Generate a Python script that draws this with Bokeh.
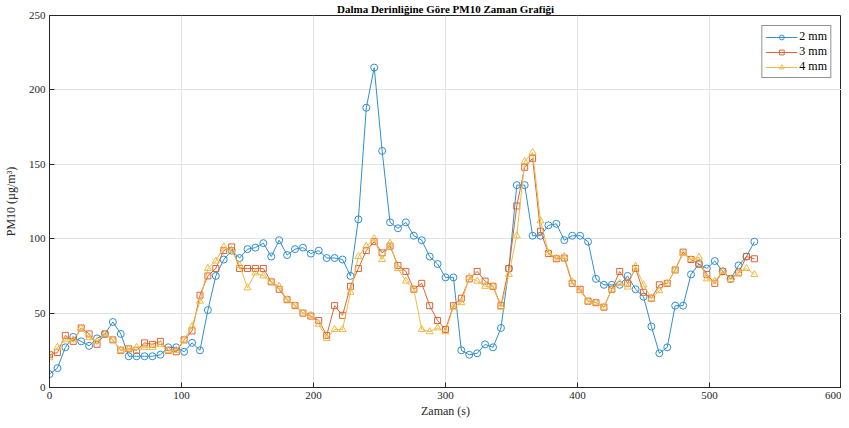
from bokeh.plotting import figure
from bokeh.models import Range1d, FixedTicker, Legend, LegendItem
from bokeh.embed import file_html
from bokeh.resources import INLINE

zaman = [0, 6, 12, 18, 24, 30, 36, 42, 48, 54, 60, 66, 72, 78, 84, 90, 96, 102, 108, 114,
         120, 126, 132, 138, 144, 150, 156, 162, 168, 174, 180, 186, 192, 198, 204, 210, 216,
         222, 228, 234, 240, 246, 252, 258, 264, 270, 276, 282, 288, 294, 300, 306, 312, 318,
         324, 330, 336, 342, 348, 354, 360, 366, 372, 378, 384, 390, 396, 402, 408, 414, 420,
         426, 432, 438, 444, 450, 456, 462, 468, 474, 480, 486, 492, 498, 504, 510, 516, 522,
         528, 534]

pm_2mm = [9, 13, 27, 34, 31, 28, 33, 36, 44, 36, 21, 21, 21, 21, 22, 27, 27, 24, 30, 25, 52, 75, 86,
          92, 87, 93, 94, 97, 88, 99, 89, 93, 94, 90, 92, 87, 87, 86, 75, 113, 188, 215, 159, 111, 107,
          111, 102, 99, 88, 83, 74, 74, 25, 22, 23, 29, 27, 40, 80, 136, 136, 102, 102, 109, 110, 99, 102,
          102, 98, 73, 69, 69, 69, 75, 66, 61, 41, 23, 27, 55, 55, 76, 83, 80, 85, 78, 73, 82, 88, 98]

pm_3mm = [22, 23.5, 35, 31, 40, 36, 29, 36, 32, 25, 26, 25, 30, 29, 31, 25, 24, 32, 38, 62, 75, 80, 92,
          94.5, 80, 80, 80, 80, 71, 66, 59, 55, 50, 48, 45, 35, 55, 48.5, 68, 80, 92, 98, 90.5, 95, 82,
          78, 66, 70, 55, 45, 39, 55, 60, 73, 78, 71.5, 68, 55, 80, 122, 148, 154, 105, 90, 86.5, 87, 70,
          66, 58, 57, 54, 66, 78, 70, 80, 64, 60, 69, 70, 79, 91, 86, 83, 76, 70, 78, 73, 77, 88, 86.5]

pm_4mm = [20, 27, 32, 32, 40, 33.5, 31, 36, 32, 25, 26, 27, 27, 27, 29, 25, 25, 32, 41, 58, 80, 85, 94.5,
          92, 82, 67, 77, 75, 71, 68, 59, 55, 50, 48.5, 42.5, 33, 39, 39, 64, 88, 95, 100, 86, 97, 80,
          71.5, 66, 39, 37.5, 40, 37.5, 54, 57, 74, 71.5, 68, 68, 54, 76, 102, 152, 158, 112, 90.5, 87, 88, 71,
          65, 58, 57, 54, 66, 70, 67.5, 81.5, 69, 60, 65, 70, 79, 90, 86, 87.5, 73, 71.5, 78, 72.5, 77, 80, 76]

x_ticks = [0, 100, 200, 300, 400, 500, 600]
y_ticks = [0, 50, 100, 150, 200, 250]

FONT = "Liberation Serif"
TXT = "#262626"

p = figure(width=841, height=420, output_backend="svg", toolbar_location=None,
           x_range=Range1d(0, 600), y_range=Range1d(0, 250),
           title="Dalma Derinliğine Göre PM10 Zaman Grafiği",
           min_border_left=10, min_border_right=0, min_border_top=0, min_border_bottom=0)

p.title.align = "center"
p.title.text_font = FONT
p.title.text_font_size = "11px"
p.title.text_font_style = "bold"
p.title.text_color = "#000000"
p.title.standoff = 1
p.title.offset = -8

p.outline_line_color = TXT
p.outline_line_width = 1
p.outline_line_alpha = 1

for ax in (p.xaxis[0], p.yaxis[0]):
    ax.axis_line_color = TXT
    ax.major_tick_line_color = TXT
    ax.major_tick_in = 5
    ax.major_tick_out = 0
    ax.minor_tick_line_color = None
    ax.major_label_text_font = FONT
    ax.major_label_text_font_size = "11px"
    ax.major_label_text_color = TXT
    ax.axis_label_text_font = FONT
    ax.axis_label_text_font_size = "12px"
    ax.axis_label_text_font_style = "normal"
    ax.axis_label_text_color = TXT

p.xaxis.ticker = FixedTicker(ticks=x_ticks)
p.yaxis.ticker = FixedTicker(ticks=y_ticks)
p.xaxis.axis_label = "Zaman (s)"
p.yaxis.axis_label = "PM10 (µg/m³)"
p.xaxis.major_label_standoff = 4
p.xaxis.axis_label_standoff = 2
p.yaxis.major_label_standoff = 4
p.yaxis.axis_label_standoff = 8

p.grid.grid_line_color = "#e3e3e3"
p.grid.grid_line_width = 1
p.xgrid.ticker = FixedTicker(ticks=x_ticks)
p.ygrid.ticker = FixedTicker(ticks=y_ticks)

c1, c2, c3 = "#2F8FD0", "#DC6434", "#EFBA45"

l1 = p.line(zaman, pm_2mm, line_color=c1, line_width=1)
m1 = p.scatter(zaman, pm_2mm, marker="circle", size=7, line_color=c1, fill_color=None, line_width=1)
l2 = p.line(zaman, pm_3mm, line_color=c2, line_width=1)
m2 = p.scatter(zaman, pm_3mm, marker="square", size=6, line_color=c2, fill_color=None, line_width=1)
l3 = p.line(zaman, pm_4mm, line_color=c3, line_width=1)
m3 = p.scatter(zaman, pm_4mm, marker="triangle", size=7, line_color=c3, fill_color=None, line_width=1)

legend = Legend(items=[LegendItem(label="2 mm", renderers=[l1, m1]),
                       LegendItem(label="3 mm", renderers=[l2, m2]),
                       LegendItem(label="4 mm", renderers=[l3, m3])],
                location="top_right")
legend.label_text_font = FONT
legend.label_text_font_size = "12px"
legend.label_text_color = "#000000"
legend.border_line_color = TXT
legend.border_line_width = 1
legend.background_fill_color = "white"
legend.background_fill_alpha = 1
legend.glyph_width = 32
legend.glyph_height = 12
legend.label_standoff = 2
legend.label_height = 12
legend.spacing = 0
legend.padding = 3
legend.margin = 10
p.add_layout(legend)

open("out.html", "w").write(file_html(p, INLINE))
